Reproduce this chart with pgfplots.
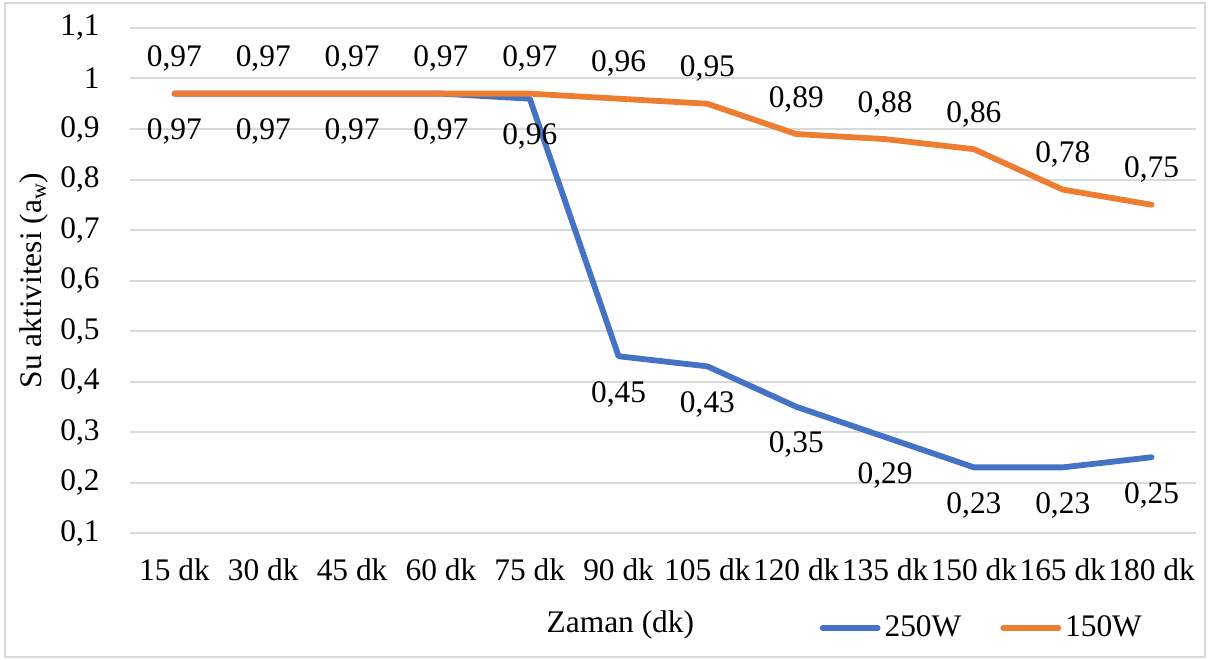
\documentclass[border=0pt]{standalone}
\usepackage{pgfplots}
\pgfplotsset{compat=1.18}
\usepackage{fontspec}
\setmainfont{Liberation Serif}
\definecolor{cblue}{HTML}{4472C4}
\definecolor{corange}{HTML}{ED7D31}
\definecolor{cgrid}{HTML}{D9D9D9}

\begin{document}
\fontsize{15.7}{18}\selectfont
\begin{tikzpicture}
\useasboundingbox (-65pt,-63pt) rectangle (539pt,266.5pt);
\draw[cgrid, line width=0.8pt] (-62.5pt,-62pt) rectangle (537.5pt,265pt);
\begin{axis}[
at={(0,0)}, anchor=south west,
scale only axis, width=533pt, height=252.5pt,
xmin=-0.5, xmax=11.5, ymin=0.1, ymax=1.1,
xtick={0,1,2,3,4,5,6,7,8,9,10,11},
xticklabels={15 dk,30 dk,45 dk,60 dk,75 dk,90 dk,105 dk,120 dk,135 dk,150 dk,165 dk,180 dk},
ytick={0.1,0.2,0.3,0.4,0.5,0.6,0.7,0.8,0.9,1,1.1},
axis line style={draw=none}, tick style={draw=none},
ymajorgrids=true, grid style={cgrid, line width=1pt},
yticklabel style={anchor=east, inner sep=0pt, xshift=-15pt},
xticklabel style={anchor=center, inner sep=0pt, yshift=-18.5pt},
/pgf/number format/use comma,
/pgf/number format/assume math mode=true,
xlabel={Zaman (dk)},
xlabel style={at={(axis description cs:0.46,-0.182)}, anchor=center},
ylabel={Su aktivitesi (a\textsubscript{w})},
ylabel style={at={(axis description cs:-0.09,0.5)}, anchor=center},
clip=false,
legend style={draw=none, fill=none, legend columns=2,
  at={(axis description cs:0.80,-0.188)}, anchor=center,
  /tikz/every even column/.append style={column sep=17.5pt}},
legend image code/.code={\draw[#1] (0pt,0pt) -- (27.5pt,0pt);},
]

\addplot[cblue, line width=2.9pt, line cap=round, line join=round,
  nodes near coords, nodes near coords style={anchor=center, yshift=-19pt, text=black}]
  coordinates {(0,0.97) (1,0.97) (2,0.97) (3,0.97) (4,0.96) (5,0.45) (6,0.43) (7,0.35) (8,0.29) (9,0.23) (10,0.23) (11,0.25)};
\addlegendentry{250W}

\addplot[corange, line width=2.9pt, line cap=round, line join=round,
  nodes near coords, nodes near coords style={anchor=center, yshift=17.5pt, text=black}]
  coordinates {(0,0.97) (1,0.97) (2,0.97) (3,0.97) (4,0.97) (5,0.96) (6,0.95) (7,0.89) (8,0.88) (9,0.86) (10,0.78) (11,0.75)};
\addlegendentry{150W}

\end{axis}
\end{tikzpicture}
\end{document}
